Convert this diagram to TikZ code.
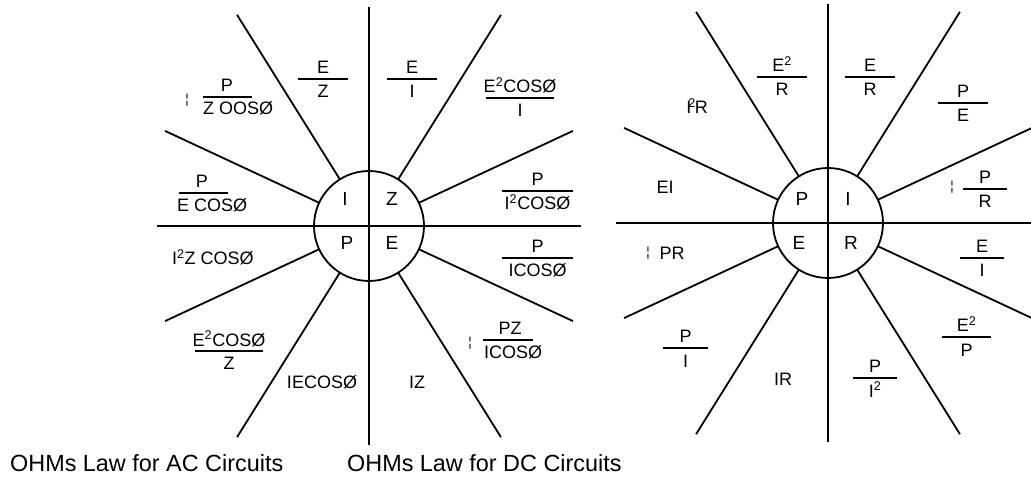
\documentclass[tikz,border=0pt]{standalone}
\usepackage{fontspec}
\setmainfont{Liberation Sans}
\usetikzlibrary{positioning,calc}
\tikzset{
  spoke/.style={line width=1.8pt},
  bar/.style={line width=1.8pt},
  lbl/.style={inner sep=0pt,anchor=base,font=\fontsize{18}{20}\selectfont},
  hub/.style={inner sep=0pt,font=\fontsize{19}{21}\selectfont},
  rootmark/.style={inner sep=0pt,font=\fontsize{13}{14}\selectfont},
  caption/.style={inner sep=0pt,anchor=base west,font=\fontsize{23.4}{26}\selectfont},
}
% fraction: name, bar x, bar y, half width, numerator, denominator
\newcommand{\ohmfrac}[6]{%
  \node[lbl] (#1n) at (#2,#3-5) {#5};
  \draw[bar] (#2-#4,#3) -- (#2+#4,#3);
  \node[lbl] (#1d) at (#2,#3+19) {#6};}
% circle, cross and spokes round a centre
\newcommand{\ohmwheel}[1]{%
  \draw[spoke] (#1) circle[radius=55];
  \draw[spoke] ($(#1)+(0,-219)$) -- ($(#1)+(0,219)$);
  \draw[spoke] ($(#1)+(-212,0)$) -- ($(#1)+(212,0)$);
  \foreach \a/\l in {25/225,58/249,122/249,155/225,205/225,238/249,302/249,335/225}
    \draw[spoke] ($(#1)+(\a:55)$) -- ($(#1)+(\a:\l)$);}
\newcommand{\sq}{\textsuperscript{2}}

\begin{document}
\begin{tikzpicture}[x=1pt,y=-1pt]
\useasboundingbox (0,0) rectangle (1031,478);
\coordinate (cL) at (369,226);
\coordinate (cR) at (828,223);

% AC wheel
\ohmwheel{cL}
\node[hub] (acI) at ($(cL)+(-24,-27)$) {I};
\node[hub] (acZ) at ($(cL)+(23,-27)$) {Z};
\node[hub] (acP) at ($(cL)+(-22,17)$) {P};
\node[hub] (acE) at ($(cL)+(23,17)$) {E};

\node[rootmark] (acPZr) at (187,100) {¦};
\node[lbl] (acPZn) at (227,92) {P};
\draw[bar] (203,97) -- (252,97);
\node[lbl,anchor=base west] (acPZd) at (203,115) {Z OOSØ};
\ohmfrac{acEZ}{323}{79}{25}{E}{Z}
\ohmfrac{acEI}{412}{79}{25}{E}{I}
\ohmfrac{acEEI}{520}{98}{34}{E\sq COSØ}{I}
\node[lbl] (acPEn) at (202,188) {P};
\draw[bar] (179,193) -- (228,193);
\node[lbl,anchor=base west] (acPEd) at (177,211.5) {E COSØ};
\ohmfrac{acPII}{537.5}{191}{35.5}{P}{I\sq COSØ}
\ohmfrac{acPIC}{537.5}{258}{35.5}{P}{ICOSØ}
\node[rootmark] (acPZIr) at (470,343) {¦};
\node[lbl] (acPZIn) at (510,335) {PZ};
\draw[bar] (483,340) -- (533,340);
\node[lbl,anchor=base west] (acPZId) at (484,358.5) {ICOSØ};
\node[lbl,anchor=base west] (acIIZ) at (172,264.5) {I\sq Z COSØ};
\ohmfrac{acEEZ}{229}{351}{34}{E\sq COSØ}{Z}
\node[lbl] (acIEC) at (322,388.5) {IECOSØ};
\node[lbl] (acIZ) at (417,388.5) {IZ};

% DC wheel
\ohmwheel{cR}
\node[hub] (dcP) at ($(cR)+(-26,-24)$) {P};
\node[hub] (dcI) at ($(cR)+(20,-24)$) {I};
\node[hub] (dcE) at ($(cR)+(-29,20)$) {E};
\node[hub] (dcR) at ($(cR)+(23,20)$) {R};

\ohmfrac{dcEER}{782}{77}{25}{E\sq}{R}
\ohmfrac{dcER}{870}{77}{25}{E}{R}
\ohmfrac{dcPE}{963}{103}{25}{P}{E}
\node[rootmark] (dcPRr) at (952,187) {¦};
\ohmfrac{dcPR}{985}{189}{22}{P}{R}
\ohmfrac{dcEI}{982}{258}{22}{E}{I}
\ohmfrac{dcEEP}{966.5}{337}{24.5}{E\sq}{P}
\ohmfrac{dcPII}{875}{378}{22}{P}{I\sq}
\ohmfrac{dcPI}{685.5}{348}{22.5}{P}{I}
\node[lbl] (dcIIR) at (697,113.5) {I\kern-3pt\sq\kern-1pt R};
\node[lbl] (dcEI) at (665,193.5) {EI};
\node[rootmark] (dcPRs) at (648,253) {¦};
\node[lbl] (dcPRt) at (672,259.5) {PR};
\node[lbl] (dcIR) at (783,385.5) {IR};

% captions
\node[caption] (acCap) at (10,471) {OHMs Law for AC Circuits};
\node[caption] (dcCap) at (347,471) {OHMs Law for DC Circuits};
\end{tikzpicture}
\end{document}
